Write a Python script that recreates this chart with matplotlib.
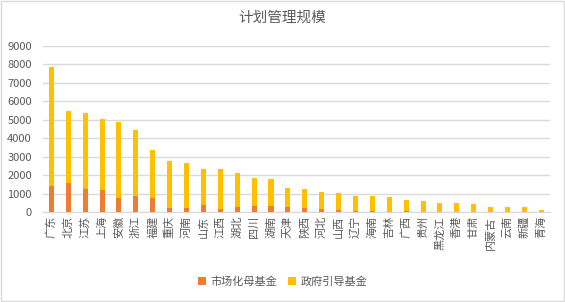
import matplotlib
matplotlib.use('Agg')
import matplotlib.pyplot as plt
import numpy as np

plt.rcParams['font.family'] = ['Noto Sans CJK SC', 'DejaVu Sans']

regions = ['广东', '北京', '江苏', '上海', '安徽', '浙江', '福建', '重庆', '河南', '山东',
           '江西', '湖北', '四川', '湖南', '天津', '陕西', '河北', '山西', '辽宁', '海南',
           '吉林', '广西', '贵州', '黑龙江', '香港', '甘肃', '内蒙古', '云南', '新疆', '青海']
# 总规模（柱顶）
total = [7850, 5490, 5380, 5055, 4890, 4460, 3375, 2780, 2670, 2350,
         2350, 2130, 1860, 1805, 1320, 1265, 1100, 1045, 885, 885,
         830, 670, 615, 505, 505, 450, 290, 290, 290, 125]
market = [1425, 1590, 1265, 1210, 775, 885, 775, 235, 235, 400,
          180, 290, 345, 345, 290, 235, 180, 125, 70, 70,
          0, 70, 0, 0, 0, 0, 0, 0, 0, 0]
gov = [t - m for t, m in zip(total, market)]

c_market = '#ED7D31'
c_gov = '#FFC000'
gray = '#595959'

fig = plt.figure(figsize=(5.65, 3.02), dpi=100)
ax = fig.add_axes([0.076, 0.298, 0.897, 0.55])

x = np.arange(len(regions))
ax.bar(x, market, width=0.3, color=c_market, label='市场化母基金', zorder=3)
ax.bar(x, gov, width=0.3, bottom=market, color=c_gov, label='政府引导基金', zorder=3)

ax.set_xlim(-0.5, len(regions) - 0.5)
ax.set_ylim(0, 9000)
ax.set_yticks(range(0, 9001, 1000))
ax.yaxis.grid(True, color='#d9d9d9', linewidth=1, zorder=0)
ax.set_xticks(x)
ax.set_xticklabels(regions, rotation=90, fontsize=8, color=gray)
ax.tick_params(axis='y', labelsize=8, labelcolor=gray, length=0, pad=8)
ax.tick_params(axis='x', length=0, pad=3)
for s in ['top', 'right', 'left']:
    ax.spines[s].set_visible(False)
ax.spines['bottom'].set_color('#d9d9d9')

fig.suptitle('计划管理规模', x=0.5, y=0.965, fontsize=10.5, color=gray)

fig.legend(loc='center', bbox_to_anchor=(0.5, 0.067), ncol=2, frameon=False,
           fontsize=8, labelcolor=gray, handlelength=0.7, handleheight=0.7,
           columnspacing=1.0, handletextpad=0.4)

fig.patches.append(plt.Rectangle((0.001, 0.003), 0.997, 0.994, transform=fig.transFigure,
                                 fill=False, edgecolor='#d9d9d9', linewidth=1))

fig.savefig('out.png', dpi=100, facecolor='white')
